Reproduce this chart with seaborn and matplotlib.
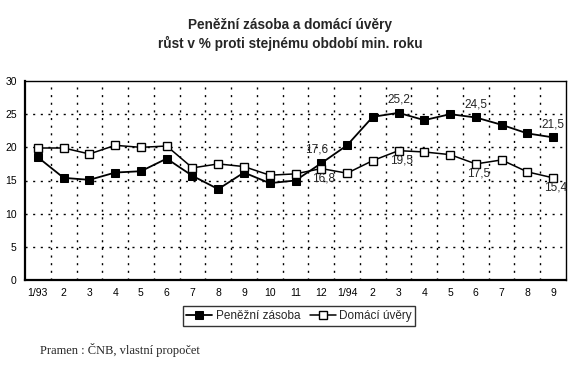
import matplotlib
matplotlib.use("Agg")
import matplotlib.pyplot as plt
import seaborn as sns
import numpy as np

months = ["1/93", "2", "3", "4", "5", "6", "7", "8", "9", "10", "11", "12",
          "1/94", "2", "3", "4", "5", "6", "7", "8", "9"]
penezni_zasoba = [18.5, 15.4, 15.1, 16.2, 16.4, 18.3, 15.7, 13.7, 16.2, 14.6, 15.0, 17.6,
                  20.3, 24.6, 25.2, 24.1, 25.0, 24.5, 23.4, 22.1, 21.5]
domaci_uvery = [19.9, 19.9, 19.0, 20.3, 20.0, 20.2, 16.9, 17.5, 17.1, 15.8, 16.0, 16.8,
                16.1, 18.0, 19.5, 19.3, 18.9, 17.5, 18.1, 16.3, 15.4]
labels_pz = {11: "17,6", 14: "25,2", 17: "24,5", 20: "21,5"}
labels_du = {11: "16,8", 14: "19,5", 17: "17,5", 20: "15,4"}

sns.set_theme(style="white")
plt.rcParams["font.family"] = ["Liberation Sans", "DejaVu Sans"]

fig = plt.figure(figsize=(5.72, 3.65), dpi=100)
ax = fig.add_axes([25/572, 1-280/365, (566-25)/572, (280-81)/365])

x = np.arange(len(months))
sns.lineplot(x=x, y=penezni_zasoba, ax=ax, color="black", linewidth=1.3,
             marker="s", markersize=5.5, markerfacecolor="black", markeredgecolor="black",
             label="Peněžní zásoba")
sns.lineplot(x=x, y=domaci_uvery, ax=ax, color="black", linewidth=1.1,
             marker="s", markersize=5.5, markerfacecolor="white", markeredgecolor="black",
             markeredgewidth=1.0, label="Domácí úvěry")

ax.set_xlim(-0.5, len(months) - 0.5)
ax.set_ylim(0, 30)
ax.set_yticks([0, 5, 10, 15, 20, 25, 30])
ax.set_xticks(x)
ax.set_xticklabels(months)
ax.tick_params(axis="both", labelsize=7.5, colors="black", length=0, pad=6)

for yv in [5, 10, 15, 20, 25]:
    ax.axhline(yv, color="black", linestyle=(0, (1.5, 4)), linewidth=1.0, zorder=0)
for xv in np.arange(0.5, len(months) - 0.5, 1):
    ax.axvline(xv, color="black", linestyle=(0, (1.5, 4)), linewidth=1.0, zorder=0)

for side in ["left", "bottom"]:
    ax.spines[side].set_linewidth(1.6)
    ax.spines[side].set_color("black")
for side in ["top", "right"]:
    ax.spines[side].set_linewidth(1.0)
    ax.spines[side].set_color("black")

for i, t in labels_pz.items():
    dx = -0.2 if i == 11 else 0.0
    ax.text(x[i] + dx, penezni_zasoba[i] + 1.1, t, fontsize=8.5, ha="center", va="bottom")
for i, t in labels_du.items():
    ax.text(x[i] + 0.1, domaci_uvery[i] - 0.6, t, fontsize=8.5, ha="center", va="top")

leg = ax.legend(loc="center", bbox_to_anchor=(299/572, 1-316/365), bbox_transform=fig.transFigure,
                ncol=2, fontsize=8.5, frameon=True, fancybox=False, handlelength=2.2,
                handletextpad=0.3, columnspacing=0.8, borderpad=0.3, edgecolor="black")
leg.get_frame().set_linewidth(1.0)

fig.text(290/572, 1-25/365, "Peněžní zásoba a domácí úvěry", ha="center", va="center",
         fontsize=9.8, fontweight="bold")
fig.text(290/572, 1-43/365, "růst v % proti stejnému období min. roku", ha="center", va="center",
         fontsize=9.8, fontweight="bold")
fig.text(40/572, 1-350/365, "Pramen : ČNB, vlastní propočet", ha="left", va="center",
         fontsize=9, family=["Liberation Serif", "DejaVu Serif"])

fig.savefig("out.png", dpi=100)
